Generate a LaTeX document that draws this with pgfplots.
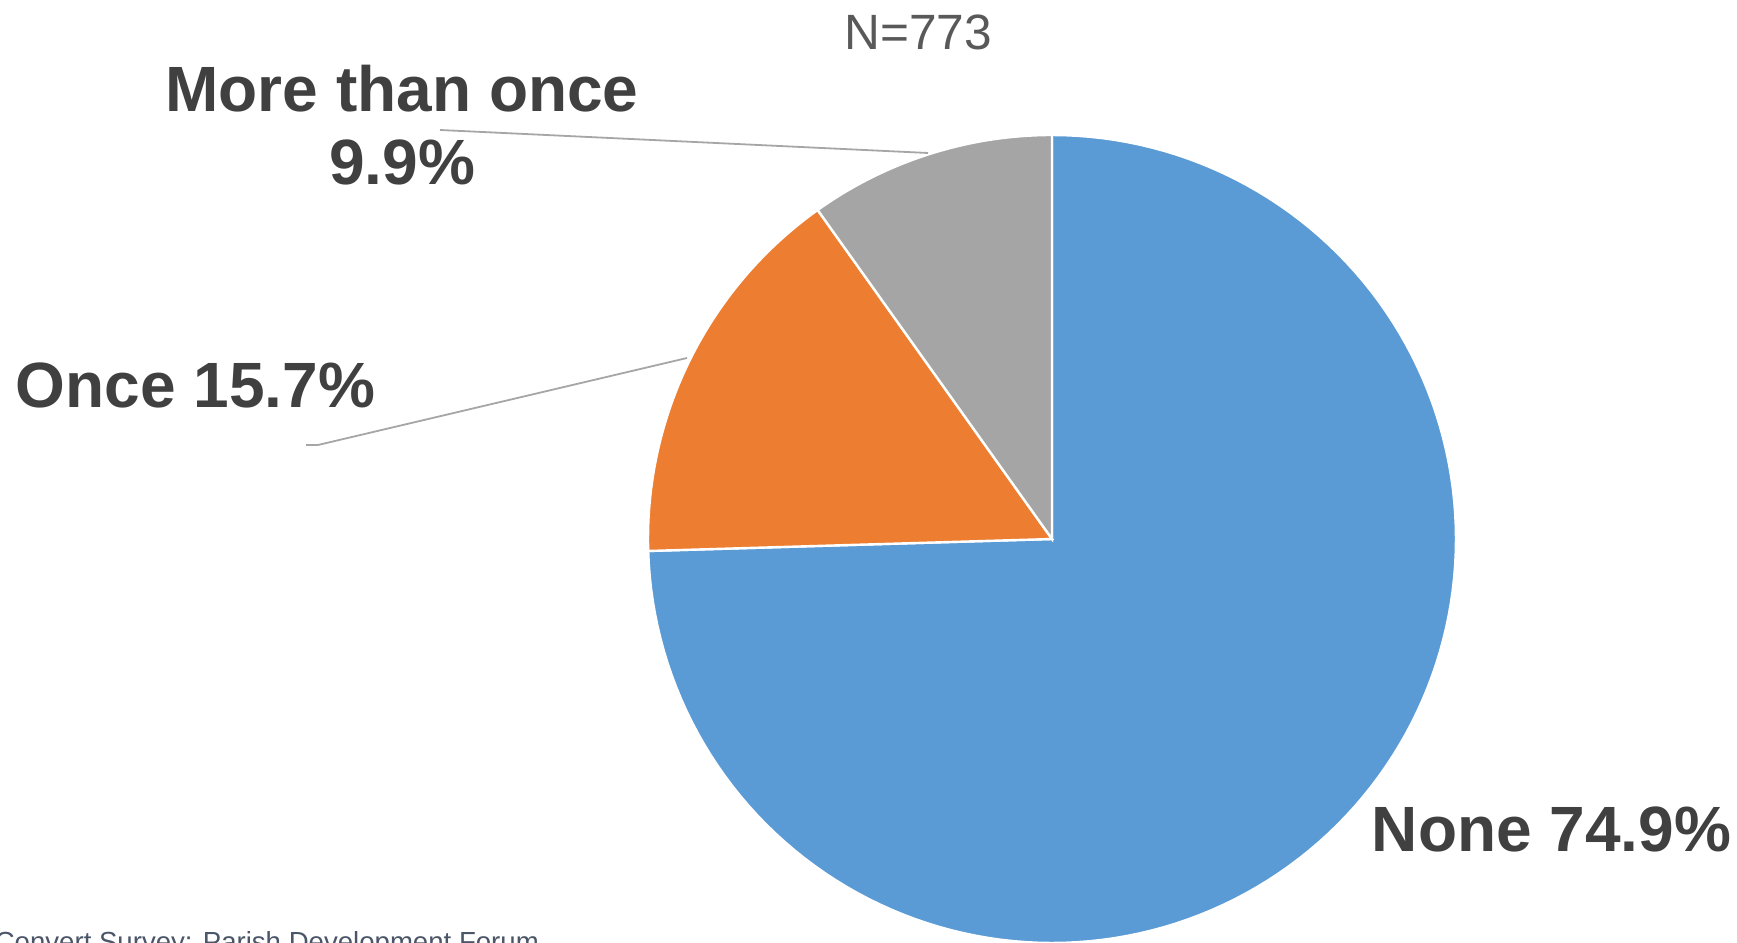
\documentclass[border=0pt]{standalone}
\usepackage{fontspec}
\setmainfont{Liberation Sans}
\usepackage{pgfplots}
\usepackage{pgfplotstable}
\pgfplotsset{compat=1.18}
\definecolor{pieblue}{HTML}{5B9BD5}
\definecolor{pieorange}{HTML}{ED7D31}
\definecolor{piegray}{HTML}{A5A5A5}
\definecolor{lbltxt}{HTML}{404040}
\definecolor{ntxt}{HTML}{595959}
\definecolor{leader}{HTML}{A6A6A6}
\definecolor{srctxt}{HTML}{4A5568}
\pgfplotstableread{
label value
None 74.9
Once 15.7
More 9.9
}\piedata
\begin{document}
\begin{tikzpicture}
\pgfplotstablegetelem{0}{value}\of\piedata \let\vA\pgfplotsretval
\pgfplotstablegetelem{1}{value}\of\piedata \let\vB\pgfplotsretval
\pgfplotstablegetelem{2}{value}\of\piedata \let\vC\pgfplotsretval
\pgfmathsetmacro{\tot}{\vA+\vB+\vC}
\pgfmathsetmacro{\aA}{90-(\vA/\tot)*360}
\pgfmathsetmacro{\aB}{\aA-(\vB/\tot)*360}
\pgfmathsetmacro{\aC}{\aB-(\vC/\tot)*360}
\useasboundingbox (0pt,0pt) rectangle (434.25pt,235.75pt);
\clip (0pt,0pt) rectangle (434.25pt,235.75pt);
\begin{axis}[
  x=0.25pt, y=0.25pt,
  xmin=0, xmax=1737, ymin=0, ymax=943,
  hide axis, clip=false,
  anchor=south west, at={(0pt,0pt)},
]
\addplot[fill=pieblue, draw=white, line width=0.6pt, domain=\aA:90, samples=150]
  ({1052+404*cos(x)},{404+404*sin(x)}) -- (axis cs:1052,404) -- cycle;
\addplot[fill=pieorange, draw=white, line width=0.6pt, domain=\aB:\aA, samples=60]
  ({1052+404*cos(x)},{404+404*sin(x)}) -- (axis cs:1052,404) -- cycle;
\addplot[fill=piegray, draw=white, line width=0.6pt, domain=\aC:\aB, samples=40]
  ({1052+404*cos(x)},{404+404*sin(x)}) -- (axis cs:1052,404) -- cycle;
% leader lines
\addplot[leader, line width=0.45pt, mark=none] coordinates {(440,813) (928,790)};
\addplot[leader, line width=0.45pt, mark=none] coordinates {(687,585) (318,498) (306,498)};
% labels
\node[anchor=base, inner sep=0, text=lbltxt, font=\fontsize{16}{19}\selectfont\bfseries] at (axis cs:402,831) {More than once};
\node[anchor=base, inner sep=0, text=lbltxt, font=\fontsize{16}{19}\selectfont\bfseries] at (axis cs:402,758) {9.9\%};
\node[anchor=base west, inner sep=0, text=lbltxt, font=\fontsize{16}{19}\selectfont\bfseries] at (axis cs:15,535) {Once 15.7\%};
\node[anchor=base west, inner sep=0, text=lbltxt, font=\fontsize{16}{19}\selectfont\bfseries] at (axis cs:1371,91) {None 74.9\%};
\node[anchor=base, inner sep=0, text=ntxt, font=\fontsize{12.4}{14}\selectfont] at (axis cs:918,893) {N=773};
\node[anchor=base west, inner sep=0, text=srctxt, font=\fontsize{6.9}{8}\selectfont] at (axis cs:-6,-9) {Convert Survey: Parish Development Forum};
\end{axis}
\end{tikzpicture}
\end{document}
